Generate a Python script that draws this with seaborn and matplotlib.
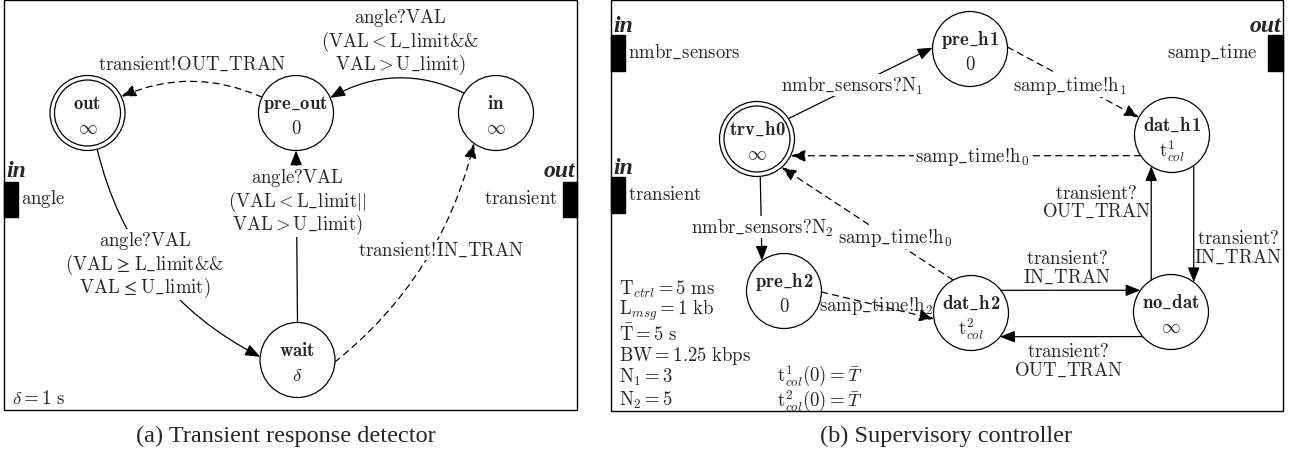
import re
import numpy as np
import matplotlib
matplotlib.use("Agg")
import matplotlib.pyplot as plt
import seaborn as sns
from matplotlib.patches import Circle, Rectangle, FancyArrowPatch

sns.set_theme(style="white")
plt.rcParams["font.family"] = ["DejaVu Serif"]
plt.rcParams["mathtext.fontset"] = "cm"

# ---------------- data ----------------
a_states = ["out", "pre_out", "in", "wait"]
a_delays = [r"$\infty$", r"$0$", r"$\infty$", r"$\delta$"]
a_initial = "out"
a_edges = [
    ("pre_out", "out", [r"$\mathrm{transient}!\!\mathrm{OUT\_TRAN}$"], True),
    ("in", "pre_out", [r"$\mathrm{angle?VAL}$", r"$(\mathrm{VAL} < \mathrm{L\_limit}&&$",
                       r"$\mathrm{VAL} > \mathrm{U\_limit})$"], False),
    ("wait", "pre_out", [r"$\mathrm{angle?VAL}$", r"$(\mathrm{VAL} < \mathrm{L\_limit}||$",
                         r"$\mathrm{VAL} > \mathrm{U\_limit})$"], False),
    ("out", "wait", [r"$\mathrm{angle?VAL}$", r"$(\mathrm{VAL}\;≥\;\mathrm{L\_limit}&&$",
                     r"$\mathrm{VAL}\;≤\;\mathrm{U\_limit})$"], False),
    ("wait", "in", [r"$\mathrm{transient}!\!\mathrm{IN\_TRAN}$"], True),
]
a_in_ports = [r"$\mathrm{angle}$"]
a_out_ports = [r"$\mathrm{transient}$"]
a_notes = [r"$\delta = 1\ \mathrm{s}$"]
caption_a = "(a) Transient response detector"

b_states = ["trv_h0", "pre_h1", "dat_h1", "pre_h2", "dat_h2", "no_dat"]
b_delays = [r"$\infty$", r"$0$", r"$\mathrm{t}^{1}_{col}$", r"$0$", r"$\mathrm{t}^{2}_{col}$", r"$\infty$"]
b_initial = "trv_h0"
b_edges = [
    ("trv_h0", "pre_h1", [r"$\mathrm{nmbr\_sensors?N}_{1}$"], False),
    ("pre_h1", "dat_h1", [r"$\mathrm{samp\_time}!\!\mathrm{h}_{1}$"], True),
    ("dat_h1", "trv_h0", [r"$\mathrm{samp\_time}!\!\mathrm{h}_{0}$"], True),
    ("trv_h0", "pre_h2", [r"$\mathrm{nmbr\_sensors?N}_{2}$"], False),
    ("dat_h2", "trv_h0", [r"$\mathrm{samp\_time}!\!\mathrm{h}_{0}$"], True),
    ("pre_h2", "dat_h2", [r"$\mathrm{samp\_time}!\!\mathrm{h}_{2}$"], True),
    ("dat_h2", "no_dat", [r"$\mathrm{transient?}$", r"$\mathrm{IN\_TRAN}$"], False),
    ("no_dat", "dat_h2", [r"$\mathrm{transient?}$", r"$\mathrm{OUT\_TRAN}$"], False),
    ("no_dat", "dat_h1", [r"$\mathrm{transient?}$", r"$\mathrm{OUT\_TRAN}$"], False),
    ("dat_h1", "no_dat", [r"$\mathrm{transient?}$", r"$\mathrm{IN\_TRAN}$"], False),
]
b_in_ports = [r"$\mathrm{nmbr\_sensors}$", r"$\mathrm{transient}$"]
b_out_ports = [r"$\mathrm{samp\_time}$"]
b_notes = [r"$\mathrm{T}_{ctrl} = 5\ \mathrm{ms}$", r"$\mathrm{L}_{msg} = 1\ \mathrm{kb}$",
           r"$\bar{\mathrm{T}} = 5\ \mathrm{s}$", r"$\mathrm{BW} = 1.25\ \mathrm{kbps}$",
           r"$\mathrm{N}_{1} = 3$", r"$\mathrm{N}_{2} = 5$"]
b_notes2 = [r"$\mathrm{t}^{1}_{col}(0) = \bar{T}$", r"$\mathrm{t}^{2}_{col}(0) = \bar{T}$"]
caption_b = "(b) Supervisory controller"

# ---------------- layout (pixel space) ----------------
R, R_IN = 37.5, 33.0
pos_a = {"out": (87.5, 114), "pre_out": (296, 114), "in": (496, 114), "wait": (297.5, 361)}
pos_b = {"trv_h0": (757, 140), "pre_h1": (970, 50), "dat_h1": (1172, 136),
         "pre_h2": (784, 292), "dat_h2": (971, 314), "no_dat": (1171, 313)}
# (angle at source, angle at target, arc rad, label x, label centre y, white background)
geo_a = [(155, 26, 0.22, 192, 65, True),
         (148, 24, 0.26, 400, 42, True),
         (90, 270, 0.0, 297, 202, True),
         (285, 175, 0.23, 145, 265, True),
         (357, 234, 0.17, 441, 251, True)]
geo_b = [(33, 178, 0.0, 852, 86, True),
         (3, 152, 0.0, 1070, 86, True),
         (213.5, -26.6, 0.0, 972, 157, True),
         (275, 126, 0.0, 762, 228, True),
         (118.5, 311, 0.0, 895, 238, True),
         (-1.5, 189, 0.0, 876, 306, False),
         (37.2, 144.6, 0.0, 1067, 268.5, False),
         (221, 320.8, 0.0, 1068, 361.5, False),
         (121.8, 236.4, 0.0, 1096, 203, False),
         (305.4, 52.7, 0.0, 1238, 248.5, False)]
DIGIT_KERN = -1.0

FS = 13.5
W, H = 1301, 456
fig = plt.figure(figsize=(W / 100, H / 100), dpi=100)
ax = fig.add_axes([0, 0, 1, 1])
ax.set_xlim(0, W)
ax.set_ylim(H, 0)
ax.axis("off")
renderer = fig.canvas.get_renderer()


def on_circle(pos, node, ang):
    cx, cy = pos[node]
    t = np.deg2rad(ang)
    return (cx + R * np.cos(t), cy - R * np.sin(t))


def bold_name(cx, y_base, name):
    head, digits = re.match(r"(.*?)(\d*)$", name).groups()
    parts = [(r"$\mathbf{" + head.replace("_", r"\_") + "}$", {}, 0.0)]
    if digits:
        parts.append((digits, {"family": "cmb10"}, DIGIT_KERN))
    texts = [ax.text(0, y_base, s, ha="left", va="baseline", fontsize=FS, zorder=4, **kw)
             for s, kw, _ in parts]
    widths = [t.get_window_extent(renderer).width + k for t, (_, _, k) in zip(texts, parts)]
    x = cx - sum(widths) / 2
    for t, w, (_, _, k) in zip(texts, widths, parts):
        t.set_x(x + k)
        x += w


def draw_panel(states, delays, initial, pos, edges, geo):
    for s, dl in zip(states, delays):
        cx, cy = pos[s]
        ax.add_patch(Circle((cx, cy), R, facecolor="white", edgecolor="black", lw=0.9, zorder=2))
        if s == initial:
            ax.add_patch(Circle((cx, cy), R_IN, facecolor="none", edgecolor="black", lw=0.9, zorder=2))
        bold_name(cx, cy - 5, s)
        ax.text(cx, cy + 15, dl, ha="center", va="center", fontsize=FS, zorder=4)
    for (src, dst, lab, dashed), (aa, ab, rad, lx, ly, bg) in zip(edges, geo):
        p1 = on_circle(pos, src, aa)
        p2 = on_circle(pos, dst, ab)
        arr = FancyArrowPatch(p1, p2, arrowstyle="-|>,head_length=0.5,head_width=0.2",
                              mutation_scale=18, connectionstyle=f"arc3,rad={rad}",
                              lw=0.9, color="black", linestyle=(0, (5, 4)) if dashed else "-",
                              shrinkA=0, shrinkB=0, zorder=1)
        ax.add_patch(arr)
        kw = dict(bbox=dict(facecolor="white", edgecolor="none", pad=0.5)) if bg else {}
        ax.text(lx, ly, "\n".join(lab), ha="center", va="center", multialignment="center",
                linespacing=1.0, fontsize=FS, zorder=3, **kw)


# frames
ax.add_patch(Rectangle((4, 1), 573, 410, fill=False, edgecolor="black", lw=1.0, zorder=5))
ax.add_patch(Rectangle((611, 1), 672, 411, fill=False, edgecolor="black", lw=1.0, zorder=5))

draw_panel(a_states, a_delays, a_initial, pos_a, a_edges, geo_a)
draw_panel(b_states, b_delays, b_initial, pos_b, b_edges, geo_b)

port_font = dict(family="Liberation Serif", style="italic", weight="bold", fontsize=17)
# panel a ports
for i, p in enumerate(a_in_ports):
    y0 = 183 + i * 142
    ax.add_patch(Rectangle((4, y0), 14, 35, color="black", zorder=5))
    ax.text(6, y0 - 11, "in", ha="left", va="center", **port_font)
    ax.text(21, y0 + 16, p, ha="left", va="center", fontsize=FS)
for i, p in enumerate(a_out_ports):
    y0 = 183 + i * 142
    ax.add_patch(Rectangle((563, y0), 14, 35, color="black", zorder=5))
    ax.text(575, y0 - 11, "out", ha="right", va="center", **port_font)
    ax.text(558, y0 + 16, p, ha="right", va="center", fontsize=FS)
# panel b ports
for i, p in enumerate(b_in_ports):
    y0 = 36 + i * 142
    ax.add_patch(Rectangle((611, y0), 14, 36, color="black", zorder=5))
    ax.text(613, y0 - 9, "in", ha="left", va="center", **port_font)
    ax.text(628, y0 + 17, p, ha="left", va="center", fontsize=FS)
for i, p in enumerate(b_out_ports):
    y0 = 36 + i * 142
    ax.add_patch(Rectangle((1268, y0), 15, 36, color="black", zorder=5))
    ax.text(1281, y0 - 9, "out", ha="right", va="center", **port_font)
    ax.text(1257, y0 + 17, p, ha="right", va="center", fontsize=FS)

# notes
for n in a_notes:
    ax.text(12, 399, n, ha="left", va="center", fontsize=FS)
for i, n in enumerate(b_notes):
    ax.text(619, 289 + i * 22.2, n, ha="left", va="center", fontsize=FS)
ax.text(777, 389, "\n".join(b_notes2), ha="left", va="center", multialignment="left",
        linespacing=1.0, fontsize=FS)

# captions
ax.text(286, 436, caption_a, ha="center", va="center", fontsize=17.5, family="Liberation Serif")
ax.text(946, 436, caption_b, ha="center", va="center", fontsize=17.5, family="Liberation Serif")

fig.savefig("out.png", dpi=100, facecolor="white")
